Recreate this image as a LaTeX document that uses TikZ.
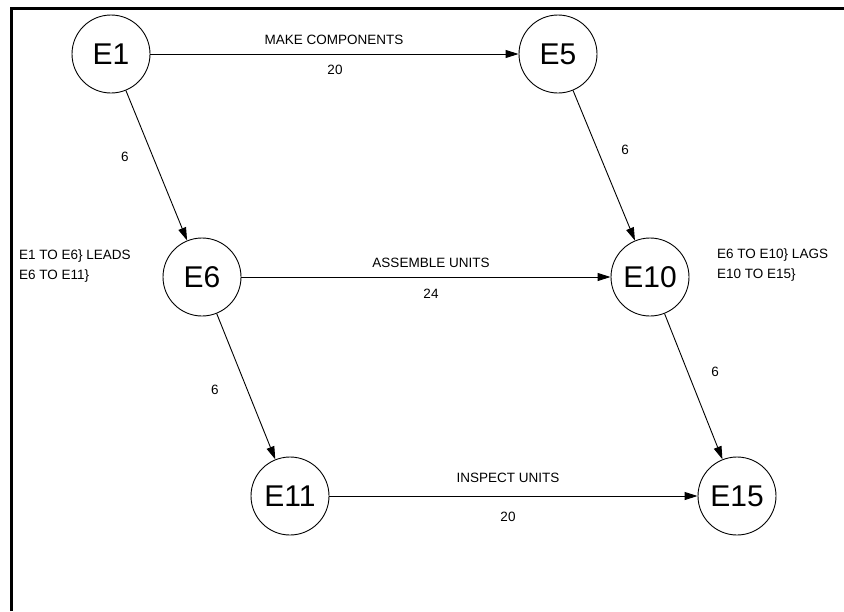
\documentclass[tikz,border=0pt]{standalone}
\usepackage{fontspec}
\setmainfont{Liberation Sans}
\usetikzlibrary{arrows.meta}
\begin{document}
\begin{tikzpicture}[x=1pt,y=-1pt,
  event/.style={circle, draw, line width=0.9pt, minimum size=78pt, inner sep=0pt,
    font=\fontsize{30}{30}\selectfont},
  act/.style={line width=0.9pt, -{Triangle[length=13pt,width=8pt]}},
  lbl/.style={font=\fontsize{13.5}{16}\selectfont, inner sep=0pt},
  note/.style={lbl, align=left, anchor=west, font=\fontsize{13.5}{20}\selectfont}]
\useasboundingbox (0,0) rectangle (844,611);
% sheet border (top and left edges)
\draw[line width=3pt] (11,611) -- (11,8) -- (844,8);

% events
\node[event] (e1)  at (111,54)  {E1};
\node[event] (e5)  at (558,54)  {E5};
\node[event] (e6)  at (202,277) {E6};
\node[event] (e10) at (650,277) {E10};
\node[event] (e11) at (290,496) {E11};
\node[event] (e15) at (737,496) {E15};

% activities
\draw[act] (e1)  -- (e5);
\draw[act] (e1)  -- (e6);
\draw[act] (e5)  -- (e10);
\draw[act] (e6)  -- (e10);
\draw[act] (e6)  -- (e11);
\draw[act] (e10) -- (e15);
\draw[act] (e11) -- (e15);

% activity names and durations
\node[lbl] (n1) at (334,40)  {MAKE COMPONENTS};
\node[lbl] (d1) at (335,70)  {20};
\node[lbl] (n2) at (431,263) {ASSEMBLE UNITS};
\node[lbl] (d2) at (431,294) {24};
\node[lbl] (n3) at (508,478) {INSPECT UNITS};
\node[lbl] (d3) at (508,517) {20};
\node[lbl] (d4) at (125,157) {6};
\node[lbl] (d5) at (625,150) {6};
\node[lbl] (d6) at (215,390) {6};
\node[lbl] (d7) at (715,372) {6};

% lead / lag notes
\node[note] (lead) at (19,266) {E1 TO E6\} LEADS\\E6 TO E11\}};
\node[note] (lag)  at (717,265) {E6 TO E10\} LAGS\\E10 TO E15\}};
\end{tikzpicture}
\end{document}
